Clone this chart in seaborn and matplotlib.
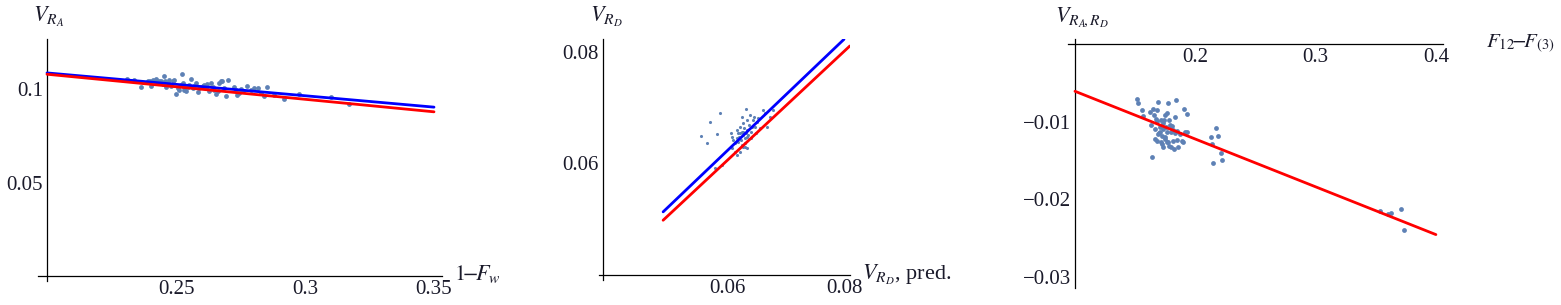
import matplotlib
matplotlib.use("Agg")
import matplotlib.pyplot as plt
import seaborn as sns

# ---------------- data ----------------
# Panel 1: V_RA vs 1-F_w
p1_x = [0.2311, 0.2339, 0.2365, 0.2390, 0.2399, 0.2403, 0.2410, 0.2419, 0.2423, 0.2429,
        0.2436, 0.2442, 0.2448, 0.2455, 0.2457, 0.2461, 0.2468, 0.2474, 0.2481, 0.2487,
        0.2494, 0.2500, 0.2506, 0.2513, 0.2519, 0.2523, 0.2526, 0.2530, 0.2532, 0.2539,
        0.2545, 0.2552, 0.2558, 0.2564, 0.2571, 0.2577, 0.2584, 0.2590, 0.2597, 0.2603,
        0.2610, 0.2616, 0.2622, 0.2629, 0.2635, 0.2642, 0.2648, 0.2655, 0.2661, 0.2668,
        0.2674, 0.2680, 0.2687, 0.2693, 0.2700, 0.2726, 0.2732, 0.2738, 0.2745, 0.2751,
        0.2758, 0.2777, 0.2790, 0.2803, 0.2816, 0.2829, 0.2842, 0.2854, 0.2880, 0.2919,
        0.2977, 0.3099, 0.3170]
p1_y = [0.1056, 0.1050, 0.1011, 0.1041, 0.1045, 0.1018, 0.1050, 0.1041, 0.1056, 0.1032,
        0.1041, 0.1045, 0.1029, 0.1072, 0.1041, 0.1011, 0.1032, 0.1050, 0.1018, 0.1041,
        0.1050, 0.0975, 0.1005, 0.0996, 0.1023, 0.1081, 0.1032, 0.0996, 0.1011, 0.0987,
        0.1011, 0.1023, 0.1056, 0.1005, 0.1018, 0.1032, 0.0982, 0.1005, 0.1011, 0.1018,
        0.1023, 0.1005, 0.1029, 0.0987, 0.1032, 0.1011, 0.0996, 0.0975, 0.0987, 0.1032,
        0.1041, 0.1041, 0.1005, 0.0961, 0.1050, 0.1011, 0.0996, 0.0970, 0.0978, 0.1000,
        0.0987, 0.1018, 0.0996, 0.1005, 0.1005, 0.0978, 0.0961, 0.1011, 0.0970, 0.0946,
        0.0975, 0.0955, 0.0921]
p1_blue_x = [0.2, 0.35]
p1_blue_y = [0.1086, 0.0903]
p1_red_x = [0.2, 0.35]
p1_red_y = [0.1079, 0.0878]
p1_xticks = [0.25, 0.3, 0.35]
p1_xlabels = ["0.25", "0.3", "0.35"]
p1_yticks = [0.05, 0.1]
p1_ylabels = ["0.05", "0.1"]

# Panel 2: V_RD vs V_RD, pred.
p2_x = [0.05543, 0.05646, 0.05703, 0.05829, 0.05874, 0.05789, 0.05903, 0.06057, 0.06074, 0.06103,
        0.06131, 0.06160, 0.06171, 0.06189, 0.06206, 0.06217, 0.06229, 0.06246, 0.06257, 0.06263,
        0.06274, 0.06286, 0.06297, 0.06303, 0.06314, 0.06320, 0.06331, 0.06343, 0.06360, 0.06371,
        0.06389, 0.06400, 0.06411, 0.06423, 0.06446, 0.06457, 0.06474, 0.06491, 0.06503, 0.06531,
        0.06560, 0.06617, 0.06646, 0.06674, 0.06731, 0.06789, 0.06160, 0.06217, 0.06274, 0.06331,
        0.06074, 0.06131, 0.06189, 0.06246, 0.06303, 0.06217, 0.06274, 0.06331]
p2_y = [0.06490, 0.06358, 0.06746, 0.06525, 0.06896, 0.05910, 0.05970, 0.06537, 0.06478, 0.06418,
        0.06358, 0.06448, 0.06597, 0.06537, 0.06478, 0.06657, 0.06418, 0.06567, 0.06836, 0.06507,
        0.06716, 0.06627, 0.06358, 0.06448, 0.06967, 0.06537, 0.06776, 0.06597, 0.06507, 0.06687,
        0.06866, 0.06567, 0.06448, 0.06657, 0.06776, 0.06836, 0.06657, 0.06537, 0.06746, 0.06806,
        0.06627, 0.06955, 0.06896, 0.06657, 0.06836, 0.06955, 0.06149, 0.06209, 0.06299, 0.06269,
        0.06269, 0.06209, 0.06388, 0.06328, 0.06299, 0.06537, 0.06567, 0.06478]
p2_blue_x = [0.049, 0.080]
p2_blue_y = [0.0513, 0.0822]
p2_red_x = [0.049, 0.081]
p2_red_y = [0.0498, 0.0810]
p2_xticks = [0.06, 0.08]
p2_xlabels = ["0.06", "0.08"]
p2_yticks = [0.06, 0.08]
p2_ylabels = ["0.06", "0.08"]

# Panel 3: V_RA,RD vs F12 - F(3)
p3_x = [0.1512, 0.1526, 0.1554, 0.1562, 0.1623, 0.1632, 0.1637, 0.1651, 0.1657, 0.1665,
        0.1668, 0.1673, 0.1679, 0.1684, 0.1693, 0.1698, 0.1706, 0.1712, 0.1717, 0.1723,
        0.1729, 0.1734, 0.1740, 0.1745, 0.1751, 0.1756, 0.1762, 0.1767, 0.1773, 0.1776,
        0.1778, 0.1784, 0.1789, 0.1795, 0.1801, 0.1806, 0.1812, 0.1817, 0.1823, 0.1828,
        0.1834, 0.1839, 0.1845, 0.1850, 0.1859, 0.1873, 0.1886, 0.1895, 0.1906, 0.1917,
        0.1928, 0.1934, 0.1679, 0.1693, 0.1706, 0.1720, 0.1734, 0.1748, 0.1762, 0.2130,
        0.2141, 0.2150, 0.2172, 0.2191, 0.2211, 0.2219, 0.3535, 0.3604, 0.3623, 0.3709,
        0.3734]
p3_y = [-0.00710, -0.00753, -0.00853, -0.00931, -0.00875, -0.01035, -0.01450, -0.00831, -0.00918, -0.01091,
        -0.01221, -0.00961, -0.00853, -0.00992, -0.00745, -0.01147, -0.01061, -0.01264, -0.00974, -0.01178,
        -0.01018, -0.01091, -0.00983, -0.00918, -0.01199, -0.01061, -0.00888, -0.01134, -0.01264, -0.00758,
        -0.00983, -0.01308, -0.01035, -0.01329, -0.01134, -0.01048, -0.01243, -0.01104, -0.01351, -0.01147,
        -0.00940, -0.00723, -0.01113, -0.01234, -0.01321, -0.01156, -0.01243, -0.01264, -0.00831, -0.01134,
        -0.00905, -0.01134, -0.01243, -0.01156, -0.01134, -0.01286, -0.01329, -0.01221, -0.01264, -0.01191,
        -0.01286, -0.01537, -0.01078, -0.01178, -0.01407, -0.01494, -0.02152, -0.02187, -0.02174, -0.02130,
        -0.02399]
p3_red_x = [0.1, 0.4]
p3_red_y = [-0.00606, -0.02455]
p3_xticks = [0.2, 0.3, 0.4]
p3_xlabels = ["0.2", "0.3", "0.4"]
p3_yticks = [-0.01, -0.02, -0.03]
p3_ylabels = ["\u22120.01", "\u22120.02", "\u22120.03"]

# ---------------- style ----------------
sns.set_style("white")
plt.rcParams["font.family"] = ["Liberation Serif", "DejaVu Serif"]
plt.rcParams["mathtext.fontset"] = "stix"

W, H = 1561, 305
fig = plt.figure(figsize=(W / 100, H / 100), dpi=100)

POINT = "#5E81B5"
TICKSIZE = 15
LABSIZE = 16
TXT = "#1a1a2a"


def make_axes(px_left, px_right, px_top, px_bottom, xlim, ylim, origin):
    ax = fig.add_axes([px_left / W, (H - px_bottom) / H,
                       (px_right - px_left) / W, (px_bottom - px_top) / H])
    ax.set_xlim(*xlim)
    ax.set_ylim(*ylim)
    ax.patch.set_alpha(0)
    for s in ("top", "right"):
        ax.spines[s].set_visible(False)
    ax.spines["left"].set_position(("data", origin[0]))
    ax.spines["bottom"].set_position(("data", origin[1]))
    for s in ("left", "bottom"):
        ax.spines[s].set_linewidth(0.9)
        ax.spines[s].set_color("black")
    ax.tick_params(direction="in", length=4, width=0.8, color="black",
                   labelsize=TICKSIZE, pad=3, labelcolor=TXT)
    ax.grid(False)
    return ax


def draw(ax, sx, sy, size, lines):
    sns.scatterplot(x=sx, y=sy, ax=ax, color=POINT, s=size, linewidth=0,
                    zorder=2, legend=False)
    for lx, ly, c in lines:
        sns.lineplot(x=lx, y=ly, ax=ax, color=c, linewidth=2.0, sort=False,
                     estimator=None, zorder=3)
    ax.set_xlabel("")
    ax.set_ylabel("")


# Panel 1
ax1 = make_axes(38, 442, 39, 281, (0.19651, 0.35310), (-0.00267, 0.12674), (0.2, 0.0))
draw(ax1, p1_x, p1_y, 12, [(p1_blue_x, p1_blue_y, "#0000ff"), (p1_red_x, p1_red_y, "#ff0000")])
ax1.set_xticks(p1_xticks, p1_xlabels)
ax1.set_yticks(p1_yticks, p1_ylabels)

# Panel 2
ax2 = make_axes(599, 850, 39.3, 280, (0.03801, 0.08103), (0.03910, 0.08220), (0.0387, 0.04))
draw(ax2, p2_x, p2_y, 5, [(p2_blue_x, p2_blue_y, "#0000ff"), (p2_red_x, p2_red_y, "#ff0000")])
ax2.set_xticks(p2_xticks, p2_xlabels)
ax2.set_yticks(p2_yticks, p2_ylabels)

# Panel 3
ax3 = make_axes(1067.7, 1442.7, 39.3, 288.3, (0.09393, 0.40566), (-0.03148, 0.000645), (0.1, 0.0))
draw(ax3, p3_x, p3_y, 12, [(p3_red_x, p3_red_y, "#ff0000")])
ax3.set_xticks(p3_xticks, p3_xlabels)
ax3.set_yticks(p3_yticks, p3_ylabels)


def ftext(px, py, s, size=LABSIZE, **kw):
    fig.text(px / W, 1 - py / H, s, fontsize=size, color=TXT,
             ha="left", va="baseline", **kw)


ftext(33, 22, r"$V_{R_A}$")
ftext(454, 280, r"$1\!{-}\!F_w$")
ftext(590, 22, r"$V_{R_D}$")
ftext(862, 280, r"$V_{R_D}$, pred.")
ftext(1055, 22, r"$V_{R_A\!,R_D}$")
ftext(1486, 48, r"$F_{12}\!{-}\!F_{(3)}$", size=15)

fig.savefig("out.png", dpi=100)
